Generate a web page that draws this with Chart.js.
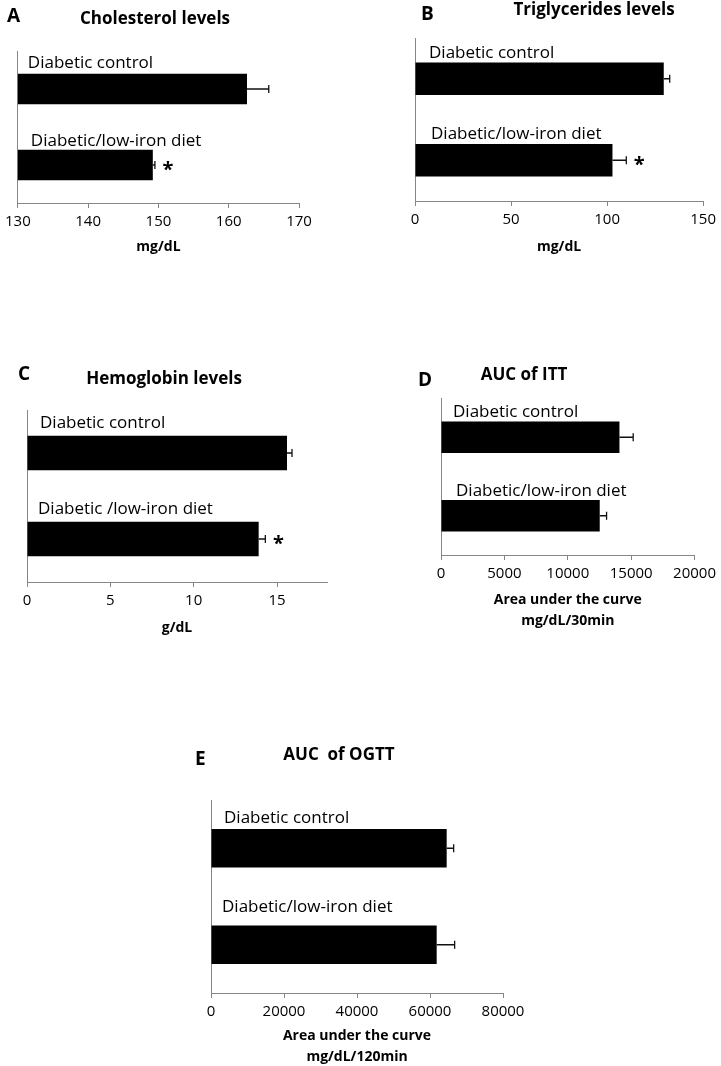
<!DOCTYPE html>
<html>
<head>
<meta charset="utf-8">
<script src="https://cdn.jsdelivr.net/npm/chart.js@4"></script>
<style>
  html, body { margin: 0; padding: 0; background: #fff; }
  #page { position: relative; width: 721px; height: 1066px; }
  #page canvas { position: absolute; left: 0; top: 0; }
</style>
</head>
<body>
<div id="page">
  <canvas id="chartA" width="721" height="1066"></canvas>
  <canvas id="chartB" width="721" height="1066"></canvas>
  <canvas id="chartC" width="721" height="1066"></canvas>
  <canvas id="chartD" width="721" height="1066"></canvas>
  <canvas id="chartE" width="721" height="1066"></canvas>
</div>
<script>
// data
const groups = ["Diabetic control", "Diabetic/low-iron diet"];
const groupsC = ["Diabetic control", "Diabetic /low-iron diet"];

const cholMean = [162.6, 149.2];
const cholErr = [3.1, 0.3];
const cholSig = ["", "*"];

const trigMean = [129.5, 102.8];
const trigErr = [3.1, 7.2];
const trigSig = ["", "*"];

const hbMean = [15.6, 13.9];
const hbErr = [0.3, 0.4];
const hbSig = ["", "*"];

const ittMean = [14075, 12520];
const ittErr = [1085, 540];
const ittSig = ["", ""];

const ogttMean = [64570, 61830];
const ogttErr = [1910, 4920];
const ogttSig = ["", ""];

const PAGE_W = 721, PAGE_H = 1066;
const AXIS_H = 40;
const AXIS_COLOR = "#868686";
const FONT = "'Open Sans', 'DejaVu Sans', sans-serif";

Chart.defaults.font.family = FONT;
Chart.defaults.color = "#000";

// draws letter, title, axis title, bar labels, error bars and stars
const panelText = {
  id: "panelText",
  afterDatasetsDraw(chart, args, o) {
    const c = chart.ctx;
    const xs = chart.scales.x;
    const area = chart.chartArea;
    const meta = chart.getDatasetMeta(0);
    c.save();
    c.fillStyle = "#000";

    c.font = "bold 19px " + FONT;
    c.textAlign = "left"; c.textBaseline = "middle";
    c.fillText(o.letter, o.letterPos[0], o.letterPos[1]);

    c.font = "bold 17px " + FONT;
    c.textAlign = "center";
    c.fillText(o.title, o.titlePos[0], o.titlePos[1]);

    c.font = "bold 14px " + FONT;
    o.axisTitle.forEach((t, i) => {
      c.fillText(t, (area.left + area.right) / 2, area.bottom + o.axisTitleDy + i * 21);
    });

    meta.data.forEach((bar, i) => {
      const half = bar.height / 2;
      // group label above the bar
      c.font = "17px " + FONT;
      c.textAlign = "left"; c.textBaseline = "middle";
      c.fillText(chart.data.labels[i], area.left + o.labelDx[i], bar.y - half - o.labelGap[i]);

      // error bar (plus side only)
      const x0 = xs.getPixelForValue(o.means[i]);
      const x1 = xs.getPixelForValue(o.means[i] + o.errs[i]);
      c.strokeStyle = "#111"; c.lineWidth = 1.3;
      c.beginPath();
      c.moveTo(x0, bar.y); c.lineTo(x1, bar.y);
      c.moveTo(x1, bar.y - 4); c.lineTo(x1, bar.y + 4);
      c.stroke();

      if (o.sig[i]) {
        c.font = "bold 20px " + FONT;
        c.textAlign = "center"; c.textBaseline = "middle";
        c.fillText(o.sig[i], x1 + 13, bar.y + 5);
      }
    });
    c.restore();
  }
};

function makePanel(id, p) {
  return new Chart(document.getElementById(id), {
    type: "bar",
    data: {
      labels: p.labels,
      datasets: [{
        data: p.means,
        backgroundColor: "#000",
        borderWidth: 0,
        barPercentage: 0.4,
        categoryPercentage: 1.0
      }]
    },
    options: {
      indexAxis: "y",
      responsive: false,
      animation: false,
      events: [],
      layout: {
        padding: {
          left: p.area[0],
          right: PAGE_W - p.area[1],
          top: p.area[2],
          bottom: PAGE_H - p.area[3] - AXIS_H
        }
      },
      plugins: {
        legend: { display: false },
        tooltip: { enabled: false },
        panelText: {
          letter: p.letter, letterPos: p.letterPos,
          title: p.title, titlePos: p.titlePos,
          axisTitle: p.axisTitle, axisTitleDy: p.axisTitleDy,
          labelDx: p.labelDx, labelGap: p.labelGap,
          means: p.means, errs: p.errs, sig: p.sig
        }
      },
      scales: {
        x: {
          min: p.min, max: p.max,
          afterFit: s => { s.height = AXIS_H; },
          grid: { drawOnChartArea: false, drawTicks: true, tickLength: 5, color: AXIS_COLOR },
          border: { color: AXIS_COLOR },
          ticks: {
            stepSize: p.step, includeBounds: false, padding: 5,
            font: { size: 15 }, color: "#000",
            callback: v => String(v)
          }
        },
        y: {
          afterFit: s => { s.width = 0; },
          grid: { display: false },
          border: { color: AXIS_COLOR },
          ticks: { display: false }
        }
      }
    },
    plugins: [panelText]
  });
}

makePanel("chartA", {
  labels: groups, means: cholMean, errs: cholErr, sig: cholSig,
  min: 130, max: 170, step: 10,
  area: [13, 299, 51, 203],
  letter: "A", letterPos: [7, 17],
  title: "Cholesterol levels", titlePos: [155, 19],
  axisTitle: ["mg/dL"], axisTitleDy: 44,
  labelDx: [10, 13], labelGap: [11, 9]
});

makePanel("chartB", {
  labels: groups, means: trigMean, errs: trigErr, sig: trigSig,
  min: 0, max: 150, step: 50,
  area: [415, 707, 38, 201],
  letter: "B", letterPos: [421, 15],
  title: "Triglycerides levels", titlePos: [594, 10],
  axisTitle: ["mg/dL"], axisTitleDy: 46,
  labelDx: [14, 16], labelGap: [9, 10]
});

makePanel("chartC", {
  labels: groupsC, means: hbMean, errs: hbErr, sig: hbSig,
  min: 0, max: 18, step: 5,
  area: [27, 327, 410, 582],
  letter: "C", letterPos: [18, 375],
  title: "Hemoglobin levels", titlePos: [164, 379],
  axisTitle: ["g/dL"], axisTitleDy: 46,
  labelDx: [13, 11], labelGap: [13, 13]
});

makePanel("chartD", {
  labels: groups, means: ittMean, errs: ittErr, sig: ittSig,
  min: 0, max: 20000, step: 5000,
  area: [441, 698, 398, 555],
  letter: "D", letterPos: [418, 381],
  title: "AUC of ITT", titlePos: [524, 375],
  axisTitle: ["Area under the curve", "mg/dL/30min"], axisTitleDy: 45,
  labelDx: [12, 15], labelGap: [9, 9]
});

makePanel("chartE", {
  labels: groups, means: ogttMean, errs: ogttErr, sig: ogttSig,
  min: 0, max: 80000, step: 20000,
  area: [211, 503, 800, 993],
  letter: "E", letterPos: [195, 760],
  title: "AUC  of OGTT", titlePos: [339, 755],
  axisTitle: ["Area under the curve", "mg/dL/120min"], axisTitleDy: 43,
  labelDx: [13, 11], labelGap: [11, 18]
});
</script>
</body>
</html>
